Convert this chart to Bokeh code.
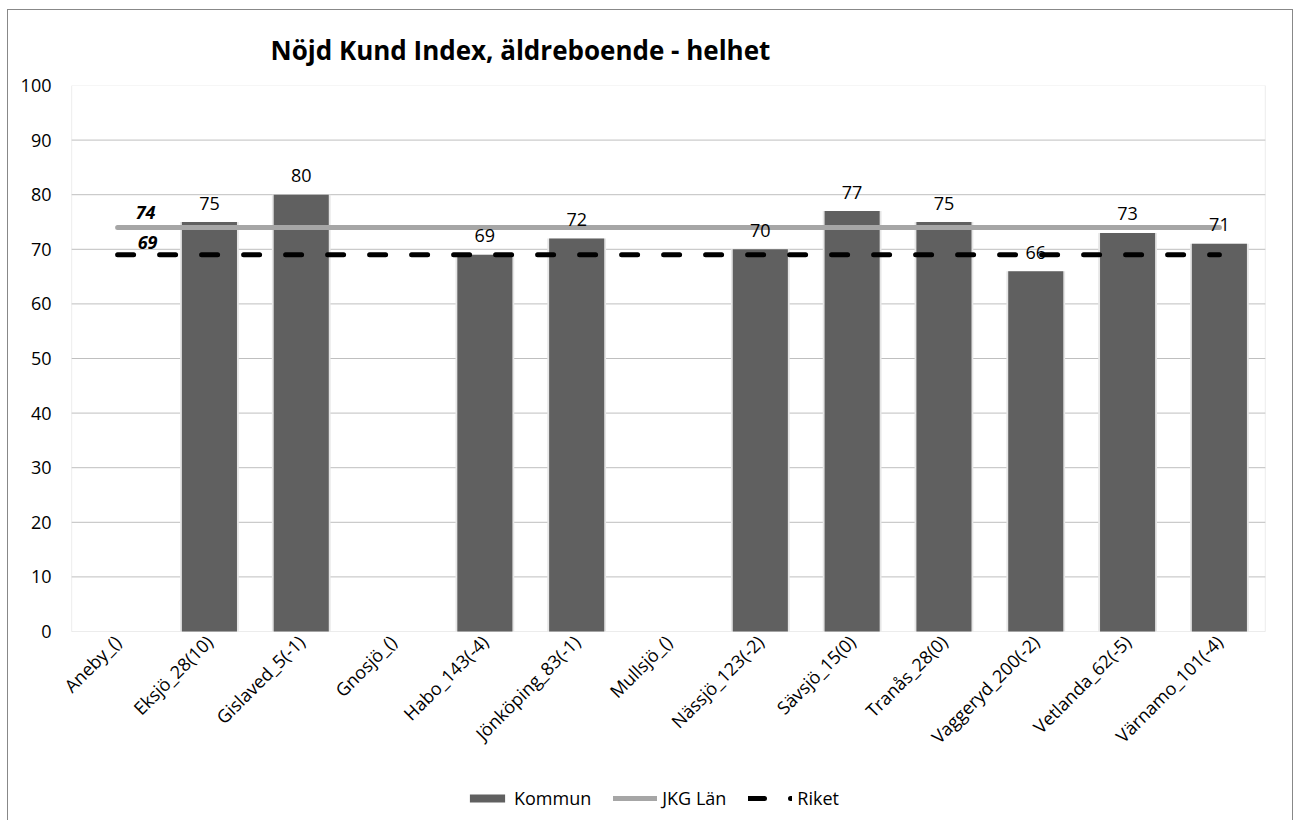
import math
import numpy as np
from bokeh.plotting import figure
from bokeh.models import (ColumnDataSource, FactorRange, Range1d, Legend, LegendItem, Title,
                          LabelSet, Label, BoxAnnotation)
from bokeh.embed import file_html
from bokeh.resources import INLINE
from bokeh.core.properties import value

categories = ["Aneby_()", "Eksjö_28(10)", "Gislaved_5(-1)", "Gnosjö_()", "Habo_143(-4)",
              "Jönköping_83(-1)", "Mullsjö_()", "Nässjö_123(-2)", "Sävsjö_15(0)",
              "Tranås_28(0)", "Vaggeryd_200(-2)", "Vetlanda_62(-5)", "Värnamo_101(-4)"]
kommun = [None, 75, 80, None, 69, 72, None, 70, 77, 75, 66, 73, 71]
jkg_lan = [74] * 13
riket = [69] * 13
y_ticks = [0, 10, 20, 30, 40, 50, 60, 70, 80, 90, 100]

FONT = "Open Sans"
N = len(categories)

src = ColumnDataSource(dict(cat=categories, jkg=jkg_lan, riket=riket))
bar_src = ColumnDataSource(dict(cat=[c for c, v in zip(categories, kommun) if v is not None],
                                kommun=[v for v in kommun if v is not None],
                                klabel=[str(v) for v in kommun if v is not None]))
grid_src = ColumnDataSource(dict(y=y_ticks[1:-1], x0=[0] * (len(y_ticks) - 2),
                                 x1=[N] * (len(y_ticks) - 2)))

# plot area: 0..100 occupies 546 px; the frame extends below 0 to hold tick labels + legend
PLOT_H = 546
FRAME_H = 730
y_start = -(FRAME_H - PLOT_H) * 100.0 / PLOT_H
PAD = 0.22  # extra room per side (category units) so rotated tick labels are not clipped

p = figure(x_range=FactorRange(*categories, range_padding=PAD, range_padding_units="absolute"),
           y_range=Range1d(y_start, 100),
           frame_width=1234, frame_height=FRAME_H,
           min_border_left=43, min_border_right=7, min_border_top=75, min_border_bottom=12,
           output_backend="svg", toolbar_location=None, tools="")
p.styles = {"border": "1px solid #888888", "margin-left": "7px", "margin-top": "9px"}

p.title = Title(text="Nöjd Kund Index, äldreboende - helhet", text_font=FONT,
                text_font_size="26px", text_font_style="bold", text_color="#000000",
                align="left", offset=219, standoff=36)

p.outline_line_color = None
p.xgrid.grid_line_color = None
p.ygrid.grid_line_color = None
p.segment(x0="x0", x1="x1", y0="y", y1="y", source=grid_src, line_color="#bfbfbf",
          line_width=1, level="underlay")
p.add_layout(BoxAnnotation(left=0, right=N, bottom=0, top=100, fill_color=None, fill_alpha=0,
                           line_color="#bfbfbf", line_width=1, level="underlay"))

# bar shadows
p.vbar(x="cat", top="kommun", width=0.64, source=bar_src, fill_color="#e6e6e6",
       line_color=None)
bars = p.vbar(x="cat", top="kommun", width=0.6, source=bar_src, fill_color="#606060",
              line_color=None)

jl = p.line(x="cat", y="jkg", source=src, line_color="#a6a6a6", line_width=5,
            line_cap="round")
rl = p.line(x="cat", y="riket", source=src, line_color="#000000", line_width=5,
            line_dash="16 26", line_cap="round")

p.add_layout(LabelSet(x="cat", y="kommun", text="klabel", source=bar_src,
                      text_align="center", text_baseline="middle", y_offset=19,
                      text_font=value(FONT), text_font_size="18px", text_color="#000000"))

p.add_layout(Label(x=0.5, y=jkg_lan[0], text=str(jkg_lan[0]), x_offset=28, y_offset=15,
                   text_align="center", text_baseline="middle", text_font=FONT,
                   text_font_size="18px", text_font_style="bold italic", text_color="#000000"))
p.add_layout(Label(x=0.5, y=riket[0], text=str(riket[0]), x_offset=30, y_offset=12,
                   text_align="center", text_baseline="middle", text_font=FONT,
                   text_font_size="18px", text_font_style="bold italic", text_color="#000000"))

p.yaxis.ticker = y_ticks
p.yaxis.axis_line_color = None
p.yaxis.major_tick_line_color = None
p.yaxis.major_tick_out = 0
p.yaxis.minor_tick_line_color = None
p.yaxis.major_label_standoff = 0
p.yaxis.major_label_text_font = FONT
p.yaxis.major_label_text_font_size = "18px"
p.yaxis.major_label_text_color = "#000000"

p.xaxis.fixed_location = 0
p.xaxis.axis_line_color = None
p.xaxis.major_tick_line_color = None
p.xaxis.minor_tick_line_color = None
p.xaxis.major_label_orientation = math.pi / 4
p.xaxis.major_label_standoff = 1
p.xaxis.major_label_text_font = FONT
p.xaxis.major_label_text_font_size = "18px"
p.xaxis.major_label_text_color = "#000000"

legend = Legend(items=[LegendItem(label="Kommun", renderers=[bars]),
                       LegendItem(label="JKG Län", renderers=[jl]),
                       LegendItem(label="Riket", renderers=[rl])],
                orientation="horizontal", location=(414, 5),
                label_text_font=FONT, label_text_font_size="18px",
                label_text_color="#000000", glyph_width=44, glyph_height=10,
                spacing=22, label_standoff=5, padding=0, margin=0,
                background_fill_alpha=0, border_line_color=None)
p.add_layout(legend)

open("out.html", "w").write(file_html(p, INLINE))
